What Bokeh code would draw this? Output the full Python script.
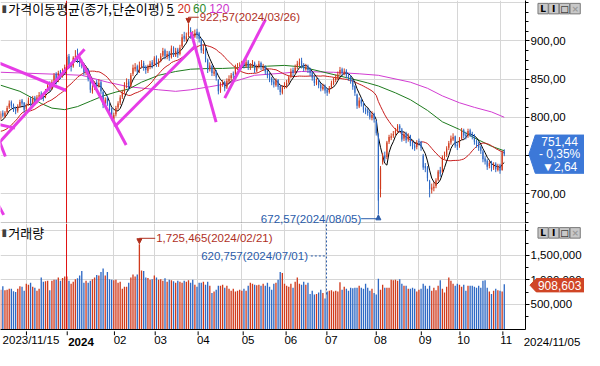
import pandas as pd
from bokeh.plotting import figure
from bokeh.layouts import column
from bokeh.models import (ColumnDataSource, Range1d, FixedTicker, Span, Label,
                          Arrow, NormalHead, GridBox)
from bokeh.core.properties import value
from bokeh.embed import file_html
from bokeh.resources import INLINE

# ---------------- data (KOSDAQ daily, 2023/11/15 - 2024/11/05) ----------------
prior_close = [788, 783, 781, 774, 770, 743, 757, 748, 743, 756, 777, 784, 839,
               809, 803, 797, 789, 793, 794]

close = [805, 802, 806, 812, 818, 815, 810, 808, 814, 820,
         818, 810, 815, 822, 818, 824, 819, 826, 829, 827,
         826, 834, 842, 836, 846, 855, 846, 858, 853, 860,
         866, 879, 866, 866, 878, 880, 873, 871, 868, 859,
         862, 850, 836, 838, 843, 842, 845, 834, 816, 823,
         818, 810, 799, 803, 812, 818, 826, 832, 842, 845,
         839, 855, 865, 866, 860, 868, 870, 865, 862, 866,
         870, 868, 877, 870, 873, 880, 887, 880, 883, 878,
         890, 882, 887, 882, 891, 905, 903, 906, 912, 908,
         907, 910, 908, 903, 888, 890, 876, 862, 868, 858,
         860, 852, 834, 842, 845, 838, 848, 850, 855, 855,
         866, 866, 868, 870, 868, 872, 866, 867, 870, 862,
         866, 870, 866, 866, 860, 855, 850, 846, 843, 848,
         840, 833, 839, 842, 845, 852, 860, 858, 865, 870,
         872, 868, 864, 866, 862, 858, 852, 845, 848, 842,
         838, 840, 835, 832, 838, 845, 848, 852, 856, 862,
         858, 860, 855, 852, 848, 840, 832, 815, 822, 818,
         810, 808, 806, 800, 803, 797, 779, 691, 733, 749,
         746, 767, 774, 775, 778, 782, 788, 785, 771, 778,
         770, 775, 766, 762, 760, 767, 767, 760, 734, 733,
         720, 706, 708, 709, 717, 729, 726, 748, 750, 759,
         766, 772, 774, 763, 762, 771, 782, 776, 775, 782,
         777, 775, 768, 765, 760, 756, 745, 742, 735, 740,
         733, 738, 732, 736, 730, 754, 751.44]

open_ = [798, 806, 801, 807, 813, 820, 816, 812, 809, 815,
         822, 819, 811, 817, 824, 819, 826, 820, 827, 831,
         829, 827, 835, 844, 838, 848, 857, 848, 860, 854,
         862, 868, 880, 868, 867, 879, 882, 875, 872, 869,
         858, 863, 849, 834, 839, 846, 841, 846, 833, 817,
         825, 819, 811, 797, 804, 813, 819, 827, 833, 843,
         847, 841, 857, 863, 867, 861, 867, 871, 866, 861,
         867, 872, 869, 878, 869, 874, 881, 888, 879, 885,
         879, 891, 881, 889, 883, 893, 907, 902, 908, 914,
         906, 906, 912, 910, 902, 887, 889, 875, 863, 867,
         857, 861, 849, 835, 843, 846, 839, 847, 851, 857,
         856, 865, 867, 869, 871, 867, 873, 865, 868, 871,
         861, 867, 871, 864, 867, 861, 856, 851, 847, 842,
         849, 841, 832, 840, 841, 846, 853, 862, 859, 866,
         869, 874, 869, 863, 867, 863, 859, 853, 844, 849,
         843, 837, 841, 836, 833, 839, 844, 849, 851, 857,
         863, 857, 861, 856, 853, 849, 841, 830, 814, 823,
         819, 811, 809, 807, 799, 805, 795, 778, 706, 741,
         750, 748, 768, 773, 776, 779, 783, 789, 784, 772,
         779, 771, 776, 767, 763, 761, 769, 768, 750, 736,
         734, 716, 705, 707, 710, 718, 731, 728, 749, 751,
         760, 767, 771, 775, 764, 763, 772, 783, 777, 776,
         783, 778, 776, 769, 766, 761, 755, 746, 743, 736,
         741, 734, 739, 731, 737, 731, 755]

high = [808, 809, 808, 815, 822, 822, 818, 814, 817, 823,
        824, 820, 818, 826, 827, 828, 828, 829, 833, 834,
        831, 837, 846, 847, 849, 858, 859, 861, 862, 864,
        869, 882, 883, 872, 880, 888, 890, 878, 876, 871,
        866, 864, 851, 842, 847, 849, 850, 848, 835, 826,
        828, 822, 813, 806, 815, 821, 829, 836, 846, 851,
        850, 858, 869, 871, 869, 873, 875, 874, 868, 869,
        874, 875, 880, 881, 877, 884, 891, 890, 887, 887,
        894, 893, 891, 891, 895, 909, 912, 911, 922.57, 918,
        913, 915, 916, 912, 904, 895, 891, 877, 872, 869,
        865, 862, 850, 846, 849, 848, 851, 855, 858, 860,
        869, 871, 872, 874, 873, 876, 875, 871, 875, 873,
        869, 874, 873, 870, 868, 862, 858, 853, 850, 851,
        850, 842, 842, 846, 849, 855, 864, 865, 869, 874,
        877, 878, 871, 870, 869, 865, 860, 855, 851, 851,
        845, 844, 843, 838, 841, 848, 852, 856, 860, 866,
        865, 864, 863, 858, 855, 850, 842, 831, 826, 825,
        820, 813, 812, 809, 808, 806, 796, 779, 736, 753,
        755, 769, 777, 779, 782, 786, 791, 791, 786, 781,
        781, 779, 777, 769, 766, 770, 772, 769, 752, 740,
        736, 718, 713, 715, 720, 731, 735, 750, 755, 762,
        769, 776, 779, 776, 767, 774, 786, 785, 781, 785,
        785, 781, 778, 771, 768, 763, 757, 749, 745, 743,
        743, 741, 741, 739, 739, 756, 758]

low = [796, 800, 799, 805, 811, 812, 807, 804, 806, 813,
       815, 806, 808, 815, 815, 817, 816, 818, 824, 823,
       821, 825, 833, 834, 836, 845, 843, 846, 850, 852,
       859, 866, 864, 860, 865, 876, 871, 866, 864, 855,
       855, 847, 832, 831, 836, 838, 839, 830, 812, 813,
       815, 806, 796, 792, 801, 810, 816, 824, 831, 838,
       835, 839, 854, 860, 856, 858, 864, 861, 857, 858,
       863, 864, 867, 866, 866, 872, 879, 876, 876, 874,
       877, 879, 879, 878, 881, 891, 899, 899, 905, 903,
       901, 904, 903, 898, 884, 883, 872, 858, 860, 854,
       854, 848, 830, 832, 840, 834, 837, 845, 848, 851,
       855, 862, 863, 865, 864, 865, 862, 862, 865, 858,
       859, 864, 862, 861, 856, 851, 846, 842, 839, 840,
       836, 829, 830, 837, 838, 844, 851, 854, 857, 863,
       867, 864, 860, 861, 858, 854, 848, 841, 842, 838,
       834, 835, 831, 828, 831, 837, 842, 846, 849, 855,
       854, 855, 851, 848, 844, 836, 828, 811, 812, 814,
       806, 804, 802, 797, 796, 793, 776, 672.57, 695, 738,
       742, 745, 765, 770, 773, 776, 780, 781, 768, 769,
       766, 768, 762, 758, 756, 758, 763, 756, 731, 728,
       716, 695, 700, 703, 707, 716, 722, 727, 745, 748,
       757, 764, 769, 760, 757, 760, 770, 772, 771, 773,
       774, 771, 764, 760, 756, 752, 741, 738, 731, 733,
       729, 731, 728, 729, 726, 730, 749]

volume = [800000, 870000, 790000, 800000, 820000, 820000, 770000, 750000, 820000, 870000,
          860000, 780000, 920000, 900000, 940000, 860000, 840000, 780000, 820000, 1050000,
          960000, 970000, 980000, 790000, 980000, 1000000, 1000000, 1050000, 980000, 1040000,
          1070000, 1070000, 980000, 920000, 960000, 1010000, 1030000, 1090000, 1180000, 940000,
          980000, 940000, 980000, 1010000, 1050000, 1100000, 1090000, 1160000, 1230000, 1090000,
          1160000, 1010000, 1000000, 990000, 1000000, 940000, 960000, 820000, 860000, 860000,
          940000, 1050000, 1110000, 1070000, 1110000, 1725465, 1190000, 1180000, 1050000, 1040000,
          1000000, 1010000, 1090000, 1050000, 1000000, 1010000, 980000, 1030000, 960000, 1000000,
          990000, 970000, 940000, 980000, 960000, 940000, 980000, 960000, 990000, 940000,
          1000000, 900000, 860000, 940000, 940000, 960000, 900000, 960000, 880000, 730000,
          760000, 800000, 880000, 880000, 900000, 840000, 880000, 820000, 780000, 820000,
          760000, 780000, 800000, 780000, 820000, 780000, 880000, 940000, 920000, 900000,
          890000, 900000, 880000, 920000, 880000, 940000, 860000, 800000, 920000, 940000,
          1000000, 1160000, 1140000, 920000, 880000, 860000, 920000, 840000, 960000, 1050000,
          920000, 900000, 960000, 900000, 940000, 710000, 780000, 700000, 710000, 740000,
          800000, 730000, 620757, 760000, 780000, 790000, 760000, 780000, 760000, 950000,
          800000, 860000, 820000, 780000, 840000, 830000, 840000, 840000, 880000, 840000,
          820000, 920000, 840000, 780000, 820000, 730000, 700000, 1020000, 800000, 900000,
          840000, 840000, 840000, 1000000, 990000, 1000000, 980000, 1010000, 920000, 880000,
          880000, 820000, 820000, 840000, 820000, 760000, 800000, 820000, 920000, 880000,
          820000, 880000, 780000, 840000, 790000, 880000, 990000, 820000, 740000, 860000,
          1050000, 980000, 920000, 880000, 920000, 900000, 860000, 900000, 780000, 880000,
          880000, 880000, 860000, 840000, 880000, 840000, 980000, 990000, 840000, 760000,
          710000, 780000, 820000, 790000, 780000, 760000, 908603]

# 60- and 120-day moving averages (bar index, value)
ma60_idx = [0, 9, 15, 19, 24, 30, 36, 42, 48, 54, 60, 66, 74, 82, 89, 98, 104, 112,
            119, 125, 133, 141, 150, 159, 165, 172, 177, 185, 192, 200, 207, 215, 222, 230, 236]
ma60_val = [842, 834, 825, 818, 812, 810, 814, 821, 828, 833, 837, 846, 855, 860, 863, 864, 864, 865,
            866, 867, 868, 866, 860, 854, 850, 845, 841, 832, 823, 809, 794, 784, 773, 762, 756]
ma120_idx = [0, 30, 38, 50, 60, 74, 82, 89, 98, 106, 119, 133, 141, 156, 168, 177,
             192, 200, 207, 215, 222, 230, 236]
ma120_val = [859, 856, 855, 846, 840, 836, 834, 836, 840, 844, 855, 858, 860, 859, 857, 855,
             846, 838, 828, 819, 813, 807, 800]

# month starts (bar index) and axis labels
month_idx = [12, 31, 53, 72, 92, 113, 133, 152, 175, 196, 214, 234]
month_lbl = ["", "2024", "02", "03", "04", "05", "06", "07", "08", "09", "10", "11"]
first_date = "2023/11/15"
last_date = "2024/11/05"

# user-drawn trend lines: (index0, price0, index1, price1)
trend_lines = [(-1, 871.3, 30.7, 835.1),
               (-1, 765.8, 39.3, 889.1),
               (-1, 790.7, 6.7, 785.8),
               (-1, 771.4, 2.2, 748.6),
               (-1, 684.2, 1.4, 672.0),
               (36.2, 881.6, 58.8, 763.6),
               (53.4, 787.5, 91.4, 894.1),
               (89.2, 911.7, 100.95, 793.7),
               (105.0, 825.1, 124.1, 928.0)]

hi_idx, hi_val, hi_date = 88, 922.57, "2024/03/26"
lo_idx, lo_val, lo_date = 177, 672.57, "2024/08/05"
vmax_idx, vmax_date = 65, "2024/02/21"
vmin_idx, vmin_date = 152, "2024/07/01"
last_price, last_pct, last_chg = 751.44, -0.35, -2.64

# ---------------- helpers ----------------
n = len(close)
idx = list(range(n))
s = pd.Series(prior_close + close)
ma5 = s.rolling(5).mean().iloc[len(prior_close):].tolist()
ma20 = s.rolling(20).mean().iloc[len(prior_close):].tolist()

UP, DN = "#D03A1C", "#2D68C4"
candle_col = [UP if c >= o else DN for o, c in zip(open_, close)]
prev = [prior_close[-1]] + close[:-1]
vol_col = [UP if c >= pc else DN for c, pc in zip(close, prev)]
body_top = [max(o, c) for o, c in zip(open_, close)]
body_bot = [min(o, c) for o, c in zip(open_, close)]


# reference-pixel <-> data helpers (used only to place annotations)
def RX(px):
    return (px - 0.2) / 2.207


def PX(i):
    return 0.2 + 2.207 * i


def RP(py):
    return 900 - (py - 42.3) / 0.797


def PY(price):
    return 42.3 + (900 - price) * 0.797


def RV(py):
    return (344.4 - py) / 51.4 * 1e6


def VY(v):
    return 344.4 - v / 1e6 * 51.4


def fmt_kr(v, d=2):
    return f"{v:.{d}f}".replace(".", ",")


def fmt_int(v):
    return f"{int(round(v)):,}"


NUMF = "Liberation Sans"
KRF = "Noto Sans CJK KR"
FS = "11.5px"
GRID = "#D6D6D6"
W = 584
RB = 56
HC = "#B0301E"
LC = "#2A5CAA"
xr = Range1d(RX(0), RX(543))

src = ColumnDataSource(dict(x=idx, o=open_, h=high, l=low, c=close, bt=body_top, bb=body_bot,
                            cc=candle_col, ma5=ma5, ma20=ma20, v=volume, vc=vol_col))

# ---------------- price panel ----------------
p = figure(width=W, height=223, x_range=xr, y_range=Range1d(RP(233), RP(0)),
           output_backend="svg", toolbar_location=None, x_axis_location=None,
           y_axis_location="right", min_border_left=0, min_border_top=0,
           min_border_bottom=0, min_border_right=RB)
p.outline_line_color = None
p.background_fill_color = "white"
p.border_fill_color = "white"
p.xgrid.ticker = FixedTicker(ticks=month_idx)
p.ygrid.ticker = FixedTicker(ticks=[700, 750, 800, 850, 900, 950])
p.xgrid.grid_line_color = GRID
p.ygrid.grid_line_color = GRID

ya = p.yaxis[0]
major = [700, 750, 800, 850, 900]
ya.ticker = FixedTicker(ticks=major, minor_ticks=[662.5 + 12.5 * k for k in range(24)])
ya.major_label_overrides = {m: fmt_kr(m) for m in major}
ya.axis_line_color = "black"
ya.major_tick_line_color = "black"
ya.minor_tick_line_color = "black"
ya.major_tick_out = 4
ya.major_tick_in = 0
ya.minor_tick_out = 3
ya.minor_tick_in = 0
ya.major_label_standoff = 1
ya.major_label_text_font = NUMF
ya.major_label_text_font_size = FS
ya.major_label_text_color = "black"

# moving averages
p.line(ma120_idx, ma120_val, line_color="#D23CD2", line_width=1)
p.line(ma60_idx, ma60_val, line_color="#1E7B1E", line_width=1)
p.line("x", "ma20", source=src, line_color="#C81E1E", line_width=1)
p.line("x", "ma5", source=src, line_color="black", line_width=1)

# candles
p.segment("x", "h", "x", "l", source=src, line_color="cc", line_width=1)
p.vbar(x="x", top="bt", bottom="bb", width=0.55, source=src, fill_color="cc", line_color=None)

# trend lines
p.segment([t[0] for t in trend_lines], [t[1] for t in trend_lines],
          [t[2] for t in trend_lines], [t[3] for t in trend_lines],
          line_color="#E63CE6", line_width=3)

# year separator and panel separator
p.add_layout(Span(location=31 - 0.15, dimension="height", line_color="#E01010", line_width=1))
p.add_layout(Span(location=RP(232.6), dimension="width", line_color="#707070", line_width=1))

# title
p.add_layout(Label(x=RX(1), y=RP(8.5), text="▮", text_font="DejaVu Sans", text_font_size="10px",
                   text_color="#404040", text_baseline="middle"))
p.add_layout(Label(x=RX(8), y=RP(8.5), text="가격이동평균(종가,단순이평)", text_font=KRF,
                   text_font_size="13px", text_color="black", text_baseline="middle"))
for txt, px, col in [("5", 172, "black"), ("20", 183, "#D03020"), ("60", 199, "#2E8B2E"), ("120", 216, "#CC33CC")]:
    p.add_layout(Label(x=RX(px), y=RP(8.5), text=txt, text_font=NUMF, text_font_size="12px",
                       text_color=col, text_baseline="middle"))
p.segment([RX(172)], [RP(15.5)], [RX(180)], [RP(15.5)], line_color="black", line_width=1)

# high annotation
p.add_layout(Label(x=RX(206), y=RP(17.5), text=f"{fmt_kr(hi_val)}({hi_date})", text_font=NUMF,
                   text_font_size=FS, text_color=HC, text_baseline="middle"))
p.segment([hi_idx], [RP(17.5)], [RX(205)], [RP(17.5)], line_color=HC, line_width=1)
p.add_layout(Arrow(end=NormalHead(size=5, fill_color=HC, line_color=HC), x_start=hi_idx, y_start=RP(17.5),
                   x_end=hi_idx, y_end=hi_val + 0.5, line_color=HC, line_width=1))

# low annotation (lines; text is on the overlay)
p.segment([RX(373)], [RP(228)], [lo_idx], [RP(228)], line_color=LC, line_width=1)
p.add_layout(Arrow(end=NormalHead(size=5, fill_color=LC, line_color=LC), x_start=lo_idx, y_start=RP(228),
                   x_end=lo_idx, y_end=lo_val - 0.5, line_color=LC, line_width=1))

# ---------------- volume panel ----------------
q = figure(width=W, height=127, x_range=xr, y_range=Range1d(RV(345), RV(234)),
           output_backend="svg", toolbar_location=None, x_axis_location="below",
           y_axis_location="right", min_border_left=0, min_border_top=0,
           min_border_bottom=21, min_border_right=RB)
q.outline_line_color = None
q.background_fill_color = "white"
q.border_fill_color = "white"
q.xgrid.ticker = FixedTicker(ticks=month_idx)
q.ygrid.ticker = FixedTicker(ticks=[500000, 1000000, 1500000, 2000000])
q.xgrid.grid_line_color = GRID
q.ygrid.grid_line_color = GRID

qa = q.yaxis[0]
vmajor = [500000, 1000000, 1500000]
qa.ticker = FixedTicker(ticks=vmajor, minor_ticks=[250000, 750000, 1250000, 1750000, 2000000])
qa.major_label_overrides = {m: fmt_int(m) for m in vmajor}
qa.axis_line_color = "black"
qa.major_tick_line_color = "black"
qa.minor_tick_line_color = "black"
qa.major_tick_out = 4
qa.major_tick_in = 0
qa.minor_tick_out = 3
qa.minor_tick_in = 0
qa.major_label_standoff = 1
qa.major_label_text_font = NUMF
qa.major_label_text_font_size = FS
qa.major_label_text_color = "black"

xa = q.xaxis[0]
tick_pos = [RX(31.5)] + [m + 2.95 for m in month_idx[2:]]
tick_txt = [first_date] + month_lbl[2:]
xa.ticker = FixedTicker(ticks=tick_pos, minor_ticks=[])
xa.major_label_overrides = {t: s_ for t, s_ in zip(tick_pos, tick_txt)}
xa.axis_line_color = "black"
xa.major_tick_out = 0
xa.major_tick_in = 0
xa.major_label_standoff = 4
xa.major_label_text_font = NUMF
xa.major_label_text_font_size = FS
xa.major_label_text_color = "black"

q.vbar(x="x", top="v", bottom=0, width=0.62, source=src, fill_color="vc", line_color=None)
q.add_layout(Span(location=31 - 0.15, dimension="height", line_color="#E01010", line_width=1))

q.add_layout(Label(x=RX(1), y=RV(243), text="▮", text_font="DejaVu Sans", text_font_size="10px",
                   text_color="#404040", text_baseline="middle"))
q.add_layout(Label(x=RX(8), y=RV(243), text="거래량", text_font=KRF,
                   text_font_size="13px", text_color="black", text_baseline="middle"))

# max volume annotation
q.add_layout(Label(x=RX(161), y=RV(249.5), text=f"{fmt_int(volume[vmax_idx])}({vmax_date})", text_font=NUMF,
                   text_font_size=FS, text_color=HC, text_baseline="middle"))
q.segment([vmax_idx], [RV(249.5)], [RX(160)], [RV(249.5)], line_color=HC, line_width=1)
q.add_layout(Arrow(end=NormalHead(size=5, fill_color=HC, line_color=HC), x_start=vmax_idx, y_start=RV(249.5),
                   x_end=vmax_idx, y_end=volume[vmax_idx] + 10000, line_color=HC, line_width=1))

# min volume annotation
q.add_layout(Label(x=RX(318), y=RV(268), text=f"{fmt_int(volume[vmin_idx])}({vmin_date})", text_font=NUMF,
                   text_font_size=FS, text_color=LC, text_baseline="middle", text_align="right"))
q.segment([RX(321)], [RV(268)], [vmin_idx + 0.7], [RV(268)], line_color=LC, line_width=1, line_dash="2 2")
q.segment([vmin_idx + 0.7], [RV(235)], [vmin_idx + 0.7], [volume[vmin_idx] + 60000], line_color=LC,
          line_width=1, line_dash="2 2")

# ---------------- transparent overlay (reference-pixel space) for items outside the frames ----------------
o = figure(width=W, height=350, x_range=Range1d(0, 584 / (528 / 543)), y_range=Range1d(366, 0),
           output_backend="svg", toolbar_location=None, x_axis_location=None, y_axis_location=None,
           min_border=0, min_border_left=0, min_border_right=0, min_border_top=0, min_border_bottom=0)
o.outline_line_color = None
o.background_fill_color = None
o.border_fill_color = None
o.grid.visible = False

# last price box
BC = "#3C78D8"
yl = PY(last_price)
o.patch([543.5, 550, 601, 601, 550], [yl, yl - 20, yl - 20, yl + 20, yl + 20],
        fill_color=BC, line_color=BC)
o.text([575, 575, 575], [yl - 13, yl, yl + 13],
       text=[fmt_kr(last_price), f"- {fmt_kr(abs(last_pct))}%", f"▼{fmt_kr(abs(last_chg))}"],
       text_font=value(NUMF), text_font_size="12px", text_color="white",
       text_align="center", text_baseline="middle")

# last volume box
VC = "#D04526"
yv = VY(volume[-1])
o.patch([544.5, 551, 601, 601, 551], [yv, yv - 7, yv - 7, yv + 7, yv + 7], fill_color=VC, line_color=VC)
o.text([575], [yv], text=[fmt_int(volume[-1])], text_font=value(NUMF), text_font_size="12px",
       text_color="white", text_align="center", text_baseline="middle")

# panel buttons
for yc in (8.5, 243):
    o.rect([558, 569, 580, 591], [yc] * 4, width=10.5, height=11, fill_color="#C8C8C8",
           line_color="#7A7A7A", line_width=1)
    o.text([558, 569, 580, 591], [yc + 0.5] * 4, text=["L", "I", "□", "×"],
           text_color=["black", "black", "black", "#9A9A9A"], text_font=value("DejaVu Sans"),
           text_font_size="9px", text_font_style="bold", text_align="center", text_baseline="middle")

# low annotation text
o.text([371], [228], text=[f"{fmt_kr(lo_val)}({lo_date})"], text_font=value(NUMF), text_font_size=FS,
       text_color=LC, text_align="right", text_baseline="middle")

# month tick marks and date labels under the axis
o.segment([PX(m) for m in month_idx], [346] * len(month_idx), [PX(m) for m in month_idx],
          [350] * len(month_idx), line_color="black", line_width=1)
o.text([PX(month_idx[1]) + 1], [357], text=[month_lbl[1]], text_font=value(NUMF), text_font_size=FS,
       text_font_style="bold", text_color="black", text_baseline="middle")
o.text([538], [357], text=[last_date], text_font=value(NUMF), text_font_size=FS,
       text_color="black", text_baseline="middle")

layout = GridBox(children=[(column(p, q, spacing=0), 0, 0), (column(o), 0, 0)])
open("out.html", "w").write(file_html(layout, INLINE))
